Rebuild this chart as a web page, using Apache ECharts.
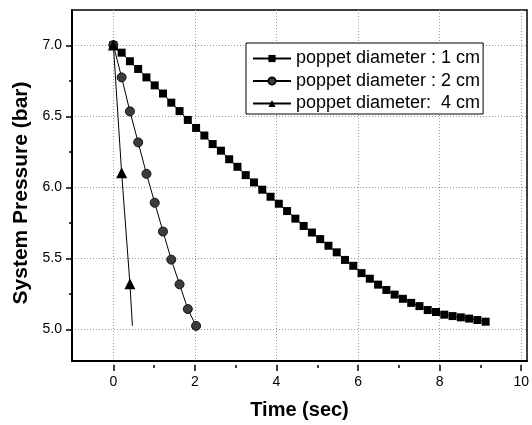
<!DOCTYPE html>
<html><head><meta charset="utf-8">
<script src="https://cdn.jsdelivr.net/npm/echarts@6/dist/echarts.min.js"></script>
<style>html,body{margin:0;padding:0;background:#fff}#c{width:532px;height:425px}</style>
</head><body><div id="c"></div>
<script>
// ---- data ----
const seriesNames = ['poppet diameter : 1 cm', 'poppet diameter : 2 cm', 'poppet diameter:  4 cm'];
const t1 = [0,0.2,0.4,0.6,0.8,1.0,1.2,1.4,1.6,1.8,2.0,2.2,2.4,2.6,2.8,3.0,3.2,3.4,3.6,3.8,4.0,4.2,4.4,4.6,4.8,5.0,5.2,5.4,5.6,5.8,6.0,6.2,6.4,6.6,6.8,7.0,7.2,7.4,7.6,7.8,8.0,8.2,8.4,8.6,8.8,9.0];
const p1 = [7.00,6.946,6.885,6.83,6.77,6.713,6.655,6.59,6.53,6.467,6.41,6.356,6.295,6.248,6.187,6.133,6.074,6.022,5.97,5.92,5.87,5.818,5.764,5.712,5.665,5.618,5.571,5.524,5.47,5.428,5.376,5.336,5.294,5.256,5.223,5.193,5.164,5.141,5.113,5.099,5.08,5.07,5.061,5.052,5.042,5.03];
const t2 = [0,0.2,0.4,0.6,0.8,1.0,1.2,1.4,1.6,1.8,2.0];
const p2 = [7.00,6.77,6.528,6.307,6.083,5.877,5.672,5.472,5.296,5.12,5.00];
const t3 = [0,0.2,0.4,0.46];
const p3 = [7.00,6.09,5.30,5.00];
const t3Marked = [true,true,true,false];
const xTickLabels = [0,2,4,6,8,10];
const yTickLabels = [5.0,5.5,6.0,6.5,7.0];
const xRange = [-1,10];
const yRange = [4.75,7.25];

// ---- layout ----
const W = 532, H = 425;
const plot = {left:72, right:5, top:10, bottom:60};
const xUnit = (W - plot.left - plot.right) / (xRange[1] - xRange[0]);
const yUnit = (H - plot.top - plot.bottom) / (yRange[1] - yRange[0]);
const inner = {
  left: plot.left + xUnit * (xTickLabels[0] - xRange[0]),
  right: plot.right + xUnit * (xRange[1] - xTickLabels[xTickLabels.length-1]),
  top: plot.top + yUnit * (yRange[1] - yTickLabels[yTickLabels.length-1]),
  bottom: plot.bottom + yUnit * (yTickLabels[0] - yRange[0])
};
const FONT = "'Liberation Sans', Arial, sans-serif";
const zip = (a,b) => a.map((v,i)=>[v,b[i]]);
const tickStyle = {color:'#000', width:1.5};
const gridLine = {show:true, lineStyle:{color:'#999', width:1, type:[1,2]}};
const hidden = {show:false};

const chart = echarts.init(document.getElementById('c'), null, {renderer:'canvas'});
chart.setOption({
  backgroundColor:'#fff',
  animation:false,
  grid:[
    // 0: data grid (full frame)
    {left:plot.left, right:plot.right, top:plot.top, bottom:plot.bottom, show:true, borderColor:'#000', borderWidth:1.5},
    // 1: y ticks 5..7 spanning full width
    {left:plot.left, right:plot.right, top:inner.top, bottom:inner.bottom, show:false},
    // 2: x ticks 0..10 spanning full height
    {left:inner.left, right:inner.right, top:plot.top, bottom:plot.bottom, show:false}
  ],
  xAxis:[
    {type:'value', gridIndex:0, min:xRange[0], max:xRange[1],
     axisLine:{show:true, onZero:false, lineStyle:{color:'#000', width:2}},
     axisTick:hidden, axisLabel:hidden, splitLine:hidden,
     name:'Time (sec)', nameLocation:'middle', nameGap:39,
     nameTextStyle:{fontFamily:FONT, fontSize:20, fontWeight:'bold', color:'#000'}},
    {type:'value', gridIndex:1, min:xRange[0], max:xRange[1], show:false},
    {type:'value', gridIndex:2, min:xTickLabels[0], max:xTickLabels[xTickLabels.length-1], interval:xTickLabels[1]-xTickLabels[0],
     axisLine:{show:false, onZero:false},
     axisTick:{show:true, inside:false, length:6, lineStyle:tickStyle},
     minorTick:{show:true, splitNumber:2, length:3, lineStyle:tickStyle},
     axisLabel:{fontFamily:FONT, fontSize:14, color:'#000', margin:10},
     splitLine:gridLine}
  ],
  yAxis:[
    {type:'value', gridIndex:0, min:yRange[0], max:yRange[1],
     axisLine:{show:true, onZero:false, lineStyle:{color:'#000', width:2}},
     axisTick:hidden, axisLabel:hidden, splitLine:hidden,
     name:'System Pressure (bar)', nameLocation:'middle', nameGap:40, nameRotate:90,
     nameTextStyle:{fontFamily:FONT, fontSize:21, fontWeight:'bold', color:'#000', padding:[0,15,0,0]}},
    {type:'value', gridIndex:1, min:yTickLabels[0], max:yTickLabels[yTickLabels.length-1], interval:yTickLabels[1]-yTickLabels[0],
     axisLine:{show:false, onZero:false},
     axisTick:{show:true, inside:false, length:6, lineStyle:tickStyle},
     minorTick:{show:true, splitNumber:2, length:3, lineStyle:tickStyle},
     axisLabel:{fontFamily:FONT, fontSize:14, color:'#000', margin:10, formatter:v=>v.toFixed(1)},
     splitLine:gridLine},
    {type:'value', gridIndex:2, min:yRange[0], max:yRange[1], show:false}
  ],
  legend:{
    left:246, top:43, orient:'vertical',
    data:seriesNames,
    backgroundColor:'#fff', borderColor:'#000', borderWidth:1,
    padding:[6.5,3,1.5,6], itemGap:4.5, itemWidth:38, itemHeight:9, itemTextGap:5,
    textStyle:{fontFamily:FONT, fontSize:18, color:'#000'}
  },
  series:[
    {name:seriesNames[0], type:'line', xAxisIndex:0, yAxisIndex:0, data:zip(t1,p1),
     symbol:'rect', symbolSize:8, clip:false, z:3,
     itemStyle:{color:'#000'}, lineStyle:{color:'#000', width:1}},
    {name:seriesNames[1], type:'line', xAxisIndex:0, yAxisIndex:0, data:zip(t2,p2),
     symbol:'circle', symbolSize:9, clip:false, z:3,
     itemStyle:{color:'#3c3c3c', borderColor:'#111', borderWidth:1}, lineStyle:{color:'#000', width:1}},
    {name:seriesNames[2], type:'line', xAxisIndex:0, yAxisIndex:0,
     data:t3.map((t,i)=> t3Marked[i] ? [t,p3[i]] : {value:[t,p3[i]], symbol:'none'}),
     symbol:'triangle', symbolSize:11, clip:false, z:3,
     itemStyle:{color:'#000'}, lineStyle:{color:'#000', width:1}}
  ]
});
</script></body></html>
